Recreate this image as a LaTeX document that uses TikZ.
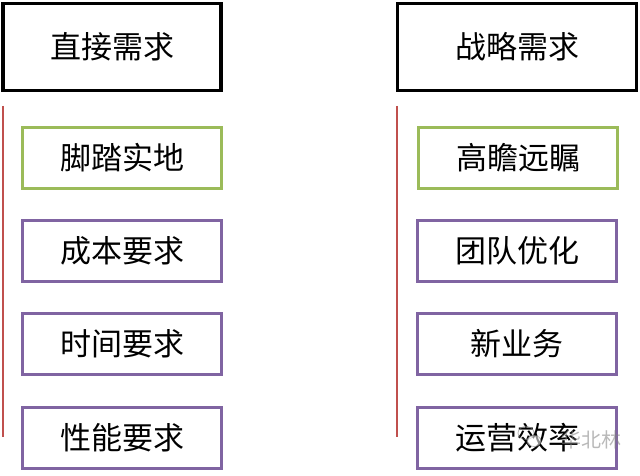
\documentclass[tikz,border=0pt]{standalone}
\usepackage{fontspec}
\setmainfont{Noto Sans CJK SC}
\definecolor{offgreen}{HTML}{9BBB59}
\definecolor{offpurple}{HTML}{8064A2}
\definecolor{offred}{HTML}{C0504D}
\begin{document}
\begin{tikzpicture}[x=1pt,y=-1pt,
  headbox/.style={draw=black,line width=3.2pt,fill=white,font=\fontsize{31}{31}\selectfont,inner sep=0pt},
  greenbox/.style={draw=offgreen,line width=2.6pt,fill=white,minimum width=199pt,minimum height=61pt,font=\fontsize{31}{31}\selectfont,inner sep=0pt},
  purplebox/.style={draw=offpurple,line width=2.6pt,fill=white,minimum width=199pt,minimum height=61pt,font=\fontsize{31}{31}\selectfont,inner sep=0pt},
  redline/.style={draw=offred,line width=1.4pt}]
\useasboundingbox[fill=white] (0,0) rectangle (640,476);
% left column
\node[headbox,minimum width=218pt,minimum height=87pt] (h1) at (112,47) {直接需求};
\node[greenbox] (l1) at (122,158) {脚踏实地};
\node[purplebox] (l2) at (122,251) {成本要求};
\node[purplebox] (l3) at (122,344) {时间要求};
\node[purplebox] (l4) at (122,438) {性能要求};
\coordinate (la) at (3,106);
\coordinate (lb) at (3,437);
\draw[redline] (la) -- (lb);
% right column
\node[headbox,minimum width=239pt,minimum height=87pt] (h2) at (517,47) {战略需求};
\node[greenbox] (r1) at (518,158) {高瞻远瞩};
\node[purplebox] (r2) at (517,251) {团队优化};
\node[purplebox] (r3) at (517,344) {新业务};
\node[purplebox] (r4) at (517,438) {运营效率};
\coordinate (ra) at (397,106);
\coordinate (rb) at (397,437);
\draw[redline] (ra) -- (rb);
% watermark
\begin{scope}[opacity=0.55]
\node[text=gray,font=\fontsize{20}{20}\selectfont,inner sep=0pt] (wm) at (591,440) {华北林};
\draw[gray,line width=0.8pt] (526,433) ellipse (8pt and 6.5pt);
\draw[gray,line width=0.8pt,fill=white] (534,441) ellipse (7pt and 5.5pt);
\end{scope}
\end{tikzpicture}
\end{document}
